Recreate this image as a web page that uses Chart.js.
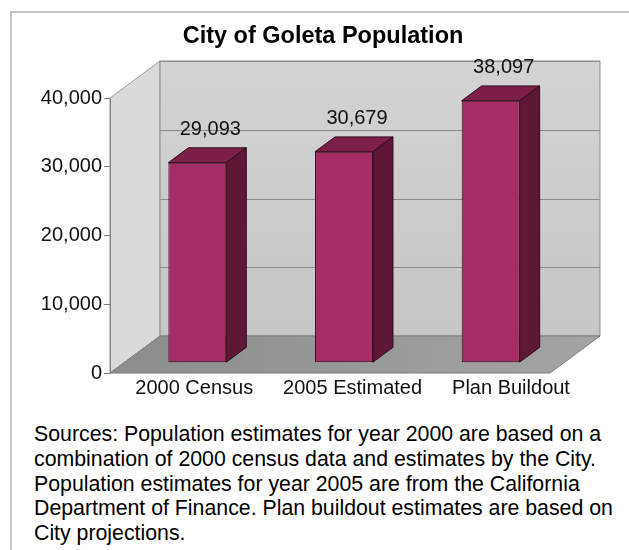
<!DOCTYPE html>
<html>
<head>
<meta charset="utf-8">
<script src="https://cdn.jsdelivr.net/npm/chart.js@4"></script>
<style>
  body { margin: 0; background: #fff; overflow: hidden; width: 629px; height: 550px; }
  .frame { position: absolute; left: 10px; top: 11px; width: 700px; height: 600px;
           border-top: 2px solid #c4c4c4; border-left: 2px solid #c4c4c4; }
  #chart { position: absolute; left: 0; top: 0; }
  .note { position: absolute; left: 34px; top: 422px; white-space: nowrap;
          font-family: 'Liberation Sans', Arial, sans-serif; font-size: 21.3px; line-height: 24.8px; color: #000; }
</style>
</head>
<body>
<div class="frame"></div>
<canvas id="chart" width="646" height="410"></canvas>
<div class="note">
  Sources: Population estimates for year 2000 are based on a<br>
  combination of 2000 census data and estimates by the City.<br>
  Population estimates for year 2005 are from the California<br>
  Department of Finance. Plan buildout estimates are based on<br>
  City projections.
</div>
<script>
// Data
const categories = ['2000 Census', '2005 Estimated', 'Plan Buildout'];
const population = [29093, 30679, 38097];
const yTicks = [0, 10000, 20000, 30000, 40000];

const FONT = "'Liberation Sans', Arial, sans-serif";

// 3D look: depth of the box and where the bars sit inside it
const DEPTH_X = 50;
const DEPTH_Y = 37;
const BAR_FRONT = 0.28;
const BAR_DEPTH = 0.4;

// x labels in the original are spread a little wider than the bars
const LABEL_SPREAD = 1.08;
const LABEL_SHIFT = 5;

function poly(ctx, pts, fill, stroke) {
  ctx.beginPath();
  ctx.moveTo(pts[0][0], pts[0][1]);
  pts.slice(1).forEach(p => ctx.lineTo(p[0], p[1]));
  ctx.closePath();
  if (fill) { ctx.fillStyle = fill; ctx.fill(); }
  if (stroke) { ctx.strokeStyle = stroke; ctx.lineWidth = 1; ctx.stroke(); }
}

const box3d = {
  id: 'box3d',
  beforeDraw(chart) {
    const { ctx, chartArea: a, scales: { y } } = chart;
    const L = a.left, R = a.right, T = a.top, B = a.bottom;
    ctx.save();

    // left side wall
    poly(ctx, [[L, T], [L + DEPTH_X, T - DEPTH_Y], [L + DEPTH_X, B - DEPTH_Y], [L, B]], '#dadada', '#9a9a9a');

    // back wall
    const wall = ctx.createLinearGradient(0, T - DEPTH_Y, 0, B - DEPTH_Y);
    wall.addColorStop(0, '#d3d3d3');
    wall.addColorStop(1, '#c6c6c6');
    poly(ctx, [[L + DEPTH_X, T - DEPTH_Y], [R + DEPTH_X, T - DEPTH_Y], [R + DEPTH_X, B - DEPTH_Y], [L + DEPTH_X, B - DEPTH_Y]], wall, '#8c8c8c');

    // gridlines on the back wall
    ctx.strokeStyle = '#8a8a8a';
    ctx.lineWidth = 1;
    y.ticks.forEach(t => {
      const py = Math.round(y.getPixelForValue(t.value) - DEPTH_Y) + 0.5;
      ctx.beginPath();
      ctx.moveTo(L + DEPTH_X, py);
      ctx.lineTo(R + DEPTH_X, py);
      ctx.stroke();
    });

    // floor
    const floor = ctx.createLinearGradient(L, 0, R + DEPTH_X, 0);
    floor.addColorStop(0, '#8b8d8d');
    floor.addColorStop(1, '#a4a4a4');
    poly(ctx, [[L, B], [L + DEPTH_X, B - DEPTH_Y], [R + DEPTH_X, B - DEPTH_Y], [R, B]], floor, '#7c7c7c');

    ctx.restore();
  },
  beforeDatasetsDraw(chart) {
    // push the flat bars back into the box
    chart.ctx.save();
    chart.ctx.translate(DEPTH_X * BAR_FRONT, -DEPTH_Y * BAR_FRONT);
  },
  afterDatasetsDraw(chart) {
    const { ctx, chartArea: a, scales: { x } } = chart;
    ctx.restore();
    ctx.save();
    const fx = DEPTH_X * BAR_FRONT, fy = DEPTH_Y * BAR_FRONT;
    const dx = DEPTH_X * BAR_DEPTH, dy = DEPTH_Y * BAR_DEPTH;

    chart.getDatasetMeta(0).data.forEach((bar, i) => {
      const l = bar.x - bar.width / 2 + fx;
      const r = bar.x + bar.width / 2 + fx;
      const t = bar.y - fy;
      const b = bar.base - fy;
      poly(ctx, [[l, t], [r, t], [r + dx, t - dy], [l + dx, t - dy]], '#7e1f49', '#2e0a19');
      poly(ctx, [[r, t], [r + dx, t - dy], [r + dx, b - dy], [r, b]], '#5e1836', '#2e0a19');

      // value label
      ctx.fillStyle = '#111';
      ctx.font = '20px ' + FONT;
      ctx.textAlign = 'center';
      ctx.textBaseline = 'middle';
      ctx.fillText(population[i].toLocaleString('en-US'), bar.x + fx + 13, bar.y - 44);
    });

    // category labels
    ctx.fillStyle = '#111';
    categories.forEach((c, i) => {
      const px = x.getPixelForValue(i);
      ctx.fillText(c, a.left + (px - a.left) * LABEL_SPREAD + LABEL_SHIFT, a.bottom + 15);
    });
    ctx.restore();
  }
};

new Chart(document.getElementById('chart'), {
  type: 'bar',
  data: {
    labels: categories,
    datasets: [{
      data: population,
      backgroundColor: '#a62c66',
      borderColor: '#2e0a19',
      borderWidth: 1,
      borderSkipped: false,
      categoryPercentage: 1,
      barPercentage: 0.395,
      clip: false
    }]
  },
  options: {
    responsive: false,
    animation: false,
    events: [],
    layout: { padding: { left: 0, right: 0, top: 0, bottom: 37 } },
    plugins: {
      legend: { display: false },
      tooltip: { enabled: false },
      title: {
        display: true,
        text: 'City of Goleta Population',
        color: '#000',
        font: { family: FONT, size: 23.5, weight: 'bold' },
        padding: { top: 22, bottom: 47.8 }
      }
    },
    scales: {
      x: { display: false },
      y: {
        min: yTicks[0],
        max: yTicks[yTicks.length - 1],
        ticks: {
          stepSize: yTicks[1] - yTicks[0],
          color: '#111',
          font: { family: FONT, size: 20 },
          padding: 2
        },
        grid: { drawOnChartArea: false, tickLength: 6, color: '#808080' },
        border: { color: '#808080' },
        afterFit: s => { s.width = 110; }
      },
      // empty right-hand box so the title centres where the original has it
      yPad: {
        position: 'right',
        ticks: { display: false },
        grid: { display: false },
        border: { display: false },
        afterFit: s => { s.width = 96; }
      }
    }
  },
  plugins: [box3d]
});
</script>
</body>
</html>
